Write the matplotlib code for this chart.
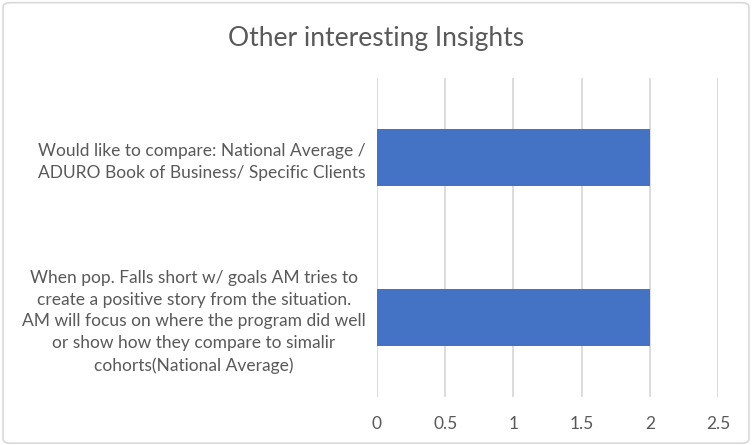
import matplotlib.pyplot as plt
from matplotlib.patches import FancyBboxPatch

# data
categories = [
    "Would like to compare: National Average /\nADURO Book of Business/ Specific Clients",
    "When pop. Falls short w/ goals AM tries to\ncreate a positive story from the situation.\n"
    "AM will focus on where the program did well\nor show how they compare to simalir\n"
    "cohorts(National Average)",
]
values = [2, 2]
ticks = [0, 0.5, 1, 1.5, 2, 2.5]
tick_labels = ["0", "0.5", "1", "1.5", "2", "2.5"]

plt.rcParams['font.family'] = ['Lato', 'DejaVu Sans']
text_col = '#595959'

fig = plt.figure(figsize=(7.52, 4.45), dpi=100)
ax = fig.add_axes([0.5013, 0.1079, 0.4535, 0.7168])

pos = list(range(len(categories)))
ax.barh(pos, values, height=0.36, color='#4472C4', zorder=3)
ax.set_ylim(len(categories) - 0.5, -0.5)
ax.set_yticks(pos)
ax.set_yticklabels(categories, multialignment='center', linespacing=1.45,
                   fontsize=12.5, color=text_col)
ax.set_xlim(0, 2.5)
ax.set_xticks(ticks)
ax.set_xticklabels(tick_labels, fontsize=12.5, color=text_col)
ax.tick_params(axis='both', length=0)
ax.tick_params(axis='y', pad=8)
ax.tick_params(axis='x', pad=14)
ax.grid(axis='x', color='#D9D9D9', linewidth=1.3, zorder=0)
for s in ax.spines.values():
    s.set_visible(False)

fig.text(0.5, 0.913, "Other interesting Insights", ha='center', va='center',
         fontsize=19, color=text_col)

# outer chart border
border = FancyBboxPatch((0.004, 0.004), 0.992, 0.990, boxstyle="round,pad=0,rounding_size=0.01",
                        transform=fig.transFigure, fill=False, edgecolor='#D9D9D9', linewidth=1.2)
fig.patches.append(border)

plt.savefig('out.png', dpi=100)
